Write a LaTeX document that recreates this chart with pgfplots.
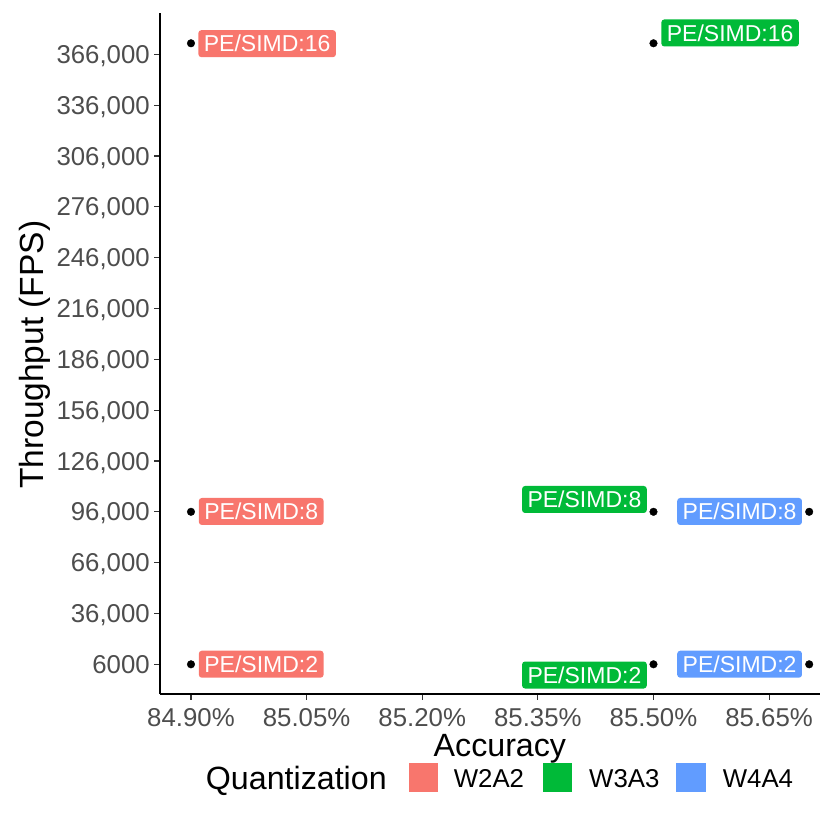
\documentclass[border=0pt]{standalone}
\usepackage{pgfplots}
\pgfplotsset{compat=1.18}
\usepackage{fontspec}
\setmainfont{Liberation Sans}
\definecolor{cA}{HTML}{F8766D}
\definecolor{cB}{HTML}{00BA38}
\definecolor{cC}{HTML}{619CFF}
\definecolor{tickgray}{HTML}{4D4D4D}
\definecolor{tickline}{HTML}{333333}
\newcommand\tickfont{\fontsize{25.8}{30}\selectfont}
\newcommand\titlefont{\fontsize{32.2}{38}\selectfont}
\newcommand\ytitlefont{\fontsize{33.5}{40}\selectfont}
\newcommand\labfont{\fontsize{23}{27}\selectfont}
\tikzset{lab/.style={rounded corners=3pt, text=white, font=\labfont, inner xsep=5.5pt, inner ysep=5.25pt, text height=16.5pt, text depth=0pt}}
\begin{document}
\begin{tikzpicture}
\path[use as bounding box] (-160pt,-126pt) rectangle (667pt,694pt);
\begin{axis}[
  scale only axis, width=660pt, height=681.3pt,
  xmin=84.8598, xmax=85.716, ymin=-11530, ymax=390550,
  clip=false,
  scaled y ticks=false, scaled x ticks=false,
  axis x line=bottom, axis y line=left,
  axis line style={-, black, line width=1.1pt},
  tick align=outside, major tick length=5.5pt,
  tick style={tickline, line width=1.1pt},
  xtick={84.90,85.05,85.20,85.35,85.50,85.65},
  xticklabels={84.90\%,85.05\%,85.20\%,85.35\%,85.50\%,85.65\%},
  ytick={6000,36000,66000,96000,126000,156000,186000,216000,246000,276000,306000,336000,366000},
  yticklabels={6000,{36,000},{66,000},{96,000},{126,000},{156,000},{186,000},{216,000},{246,000},{276,000},{306,000},{336,000},{366,000}},
  xticklabel style={font=\tickfont, text=tickgray, inner sep=0pt, anchor=base, yshift=-27.4pt},
  yticklabel style={font=\tickfont, text=tickgray, inner sep=0pt, anchor=base east, xshift=-4.5pt, yshift=-9.2pt},
  xlabel={Accuracy}, ylabel={Throughput (FPS)},
  xlabel style={font=\titlefont, at={(axis description cs:0.515,-0.091)}, anchor=base, inner sep=0pt},
  ylabel style={font=\ytitlefont, at={(axis description cs:-0.1758,0.498)}, anchor=base, inner sep=0pt},
]
\addplot[only marks, mark=*, mark size=3.8pt, black] coordinates {
  (84.90,372500) (84.90,96000) (84.90,6000)
  (85.50,372500) (85.50,96000) (85.50,6000)
  (85.702,96000) (85.702,6000)
};
\node[lab, fill=cA] at (axis cs:84.9988,372278) {PE/SIMD:16};
\node[lab, fill=cB] at (axis cs:85.5994,378593) {PE/SIMD:16};
\node[lab, fill=cA] at (axis cs:84.9911,96183) {PE/SIMD:8};
\node[lab, fill=cB] at (axis cs:85.4104,103265) {PE/SIMD:8};
\node[lab, fill=cC] at (axis cs:85.6117,96183) {PE/SIMD:8};
\node[lab, fill=cA] at (axis cs:84.9911,6059) {PE/SIMD:2};
\node[lab, fill=cB] at (axis cs:85.4104,-315) {PE/SIMD:2};
\node[lab, fill=cC] at (axis cs:85.6117,6059) {PE/SIMD:2};
\end{axis}
\node[font=\titlefont, anchor=base west, inner sep=0pt] at (45.7pt,-95.7pt) {Quantization};
\fill[cA] (249pt,-69pt) rectangle (278pt,-98pt);
\fill[cB] (383pt,-69pt) rectangle (412pt,-98pt);
\fill[cC] (516pt,-69pt) rectangle (546pt,-98pt);
\node[font=\tickfont, anchor=base west, inner sep=0pt] at (293.6pt,-93.3pt) {W2A2};
\node[font=\tickfont, anchor=base west, inner sep=0pt] at (429pt,-93.3pt) {W3A3};
\node[font=\tickfont, anchor=base west, inner sep=0pt] at (562.6pt,-93.3pt) {W4A4};
\end{tikzpicture}
\end{document}
